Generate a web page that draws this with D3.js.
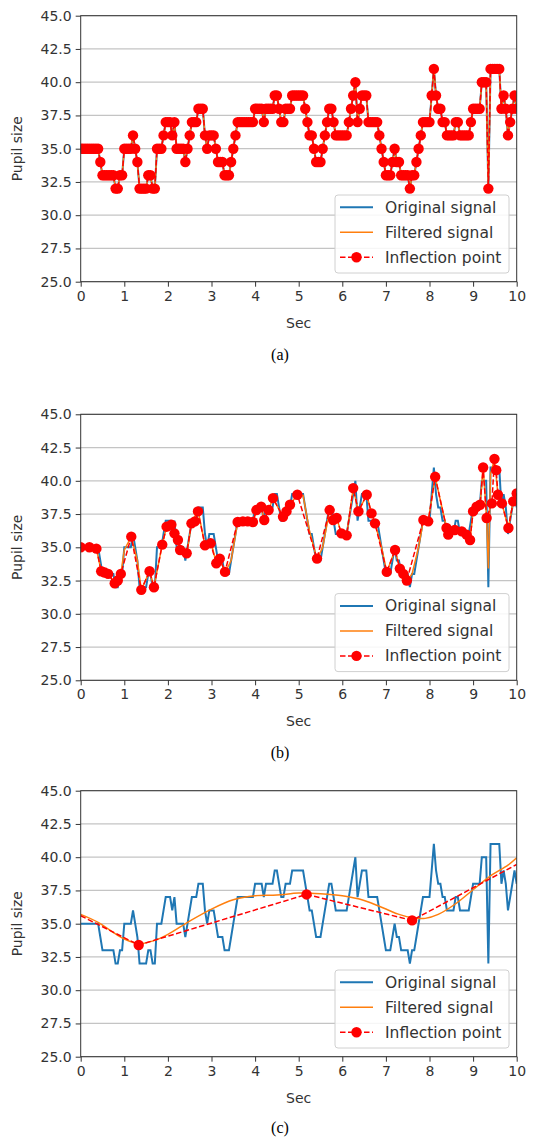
<!DOCTYPE html>
<html>
<head>
<meta charset="utf-8">
<script src="https://cdn.jsdelivr.net/npm/d3@7"></script>
<style>
  body { margin: 0; background: #fff; }
  svg { display: block; }
</style>
</head>
<body>
<div id="chart"></div>
<script>
// original pupil signal, 20 samples per second, 0..10 s
var sampleRate = 20;
var originalSignal = [
  35, 35, 35, 35, 35, 35, 35, 35, 35, 34,
  33, 33, 33, 33, 33, 33, 32, 32, 33, 33,
  35, 35, 35, 35, 36, 35, 34, 32, 32, 32,
  32, 33, 33, 32, 32, 35, 35, 35, 36, 37,
  37, 37, 36, 37, 35, 35, 35, 35, 34, 35,
  36, 37, 37, 37, 38, 38, 38, 36, 35, 36,
  36, 36, 35, 34, 34, 34, 33, 33, 33, 34,
  35, 36, 37, 37, 37, 37, 37, 37, 37, 37,
  38, 38, 38, 38, 37, 38, 38, 38, 38, 39,
  39, 38, 37, 37, 38, 38, 38, 39, 39, 39,
  39, 39, 39, 38, 37, 36, 36, 35, 34, 34,
  34, 35, 36, 37, 38, 38, 37, 36, 36, 36,
  36, 36, 36, 37, 38, 39, 40, 37, 38, 39,
  39, 39, 37, 37, 37, 37, 37, 36, 35, 34,
  33, 33, 33, 34, 35, 34, 34, 33, 33, 33,
  33, 32, 33, 33, 34, 35, 36, 37, 37, 37,
  37, 39, 41, 39, 38, 38, 37, 37, 36, 36,
  36, 36, 37, 37, 36, 36, 36, 36, 36, 37,
  38, 38, 38, 38, 40, 40, 40, 32, 41, 41,
  41, 41, 41, 38, 39, 38, 36, 37, 38, 39,
  38
];

// (b) lightly filtered signal
var filteredBTime = [0, 0.36, 0.47, 0.63, 0.78, 0.92, 1.0, 1.16, 1.3, 1.39, 1.58, 1.68, 1.87, 1.97, 2.08, 2.15, 2.28, 2.43, 2.54, 2.69, 2.85, 2.98, 3.11, 3.19, 3.31, 3.45, 3.6, 3.95, 4.03, 4.14, 4.21, 4.31, 4.41, 4.64, 4.8, 4.97, 5.1, 5.25, 5.42, 5.55, 5.71, 5.79, 5.87, 5.98, 6.1, 6.25, 6.37, 6.56, 6.67, 6.75, 6.9, 7.02, 7.21, 7.32, 7.48, 7.6, 7.75, 7.86, 7.97, 8.13, 8.39, 8.43, 8.58, 8.74, 8.93, 9.0, 9.16, 9.23, 9.31, 9.35, 9.4, 9.49, 9.57, 9.66, 9.81, 9.92, 10];
var filteredBValue = [35, 34.9, 33.2, 33.0, 32.3, 33.0, 34.8, 35.8, 34.0, 31.8, 33.2, 32.0, 35.2, 36.55, 36.7, 36.05, 34.8, 34.4, 36.8, 37.8, 35.15, 35.5, 33.8, 34.15, 33.1, 34.0, 36.9, 36.9, 37.8, 38.05, 37.05, 37.8, 38.7, 37.3, 38.2, 38.95, 38.9, 36.2, 34.1, 35.0, 37.8, 37.05, 37.2, 36.05, 35.9, 39.45, 37.7, 38.95, 37.55, 36.8, 35.0, 33.15, 34.8, 33.4, 32.5, 33.0, 35.0, 37.05, 36.95, 40.3, 36.45, 35.95, 36.3, 36.2, 35.55, 37.7, 38.2, 41.0, 37.2, 33.4, 40.5, 41.65, 38.95, 38.3, 36.45, 38.45, 39.05];

// (b) inflection points
var inflectionBTime = [0, 0.2, 0.36, 0.47, 0.55, 0.63, 0.78, 0.85, 0.92, 1.16, 1.39, 1.58, 1.68, 1.87, 1.97, 2.08, 2.15, 2.23, 2.28, 2.43, 2.54, 2.62, 2.69, 2.85, 2.98, 3.11, 3.19, 3.31, 3.6, 3.72, 3.83, 3.95, 4.03, 4.14, 4.21, 4.31, 4.41, 4.64, 4.72, 4.8, 4.97, 5.42, 5.71, 5.79, 5.87, 5.98, 6.1, 6.25, 6.37, 6.56, 6.67, 6.75, 7.02, 7.21, 7.32, 7.4, 7.48, 7.86, 7.97, 8.13, 8.39, 8.43, 8.58, 8.74, 8.85, 8.93, 9.0, 9.08, 9.16, 9.23, 9.31, 9.43, 9.49, 9.53, 9.57, 9.66, 9.81, 9.92, 10];
var inflectionBValue = [35.0, 35.0, 34.9, 33.2, 33.1, 33.0, 32.3, 32.5, 33.0, 35.8, 31.8, 33.2, 32.0, 35.2, 36.55, 36.7, 36.05, 35.55, 34.8, 34.55, 36.8, 36.95, 37.7, 35.15, 35.3, 33.8, 34.15, 33.15, 36.9, 36.95, 36.95, 36.9, 37.8, 38.05, 37.05, 37.8, 38.7, 37.3, 37.7, 38.2, 38.95, 34.15, 37.8, 37.05, 37.2, 36.05, 35.9, 39.45, 37.7, 38.95, 37.55, 36.8, 33.15, 34.8, 33.4, 33.0, 32.5, 37.05, 36.95, 40.3, 36.45, 35.95, 36.3, 36.2, 35.95, 35.55, 37.7, 38.05, 38.2, 41.0, 37.2, 38.3, 41.65, 40.8, 38.95, 38.3, 36.45, 38.45, 39.05];

// (c) strongly filtered signal
var filteredCTime = [0, 0.4, 0.7, 1.0, 1.35, 1.7, 2.0, 2.5, 3.0, 3.5, 4.0, 4.5, 5.0, 5.5, 6.0, 6.5, 7.0, 7.3, 7.6, 7.9, 8.2, 8.6, 9.0, 9.4, 9.8, 10];
var filteredCValue = [35.7, 35.1, 34.45, 33.85, 33.5, 33.75, 34.2, 35.2, 36.1, 36.8, 37.1, 37.15, 37.3, 37.25, 37.1, 36.75, 36.1, 35.7, 35.45, 35.4, 35.7, 36.5, 37.55, 38.6, 39.4, 39.95];

// (c) inflection points (line ends have no marker)
var inflectionCTime = [0, 1.33, 5.18, 7.6, 10];
var inflectionCValue = [35.6, 33.4, 37.2, 35.25, 39.45];
var inflectionCMarked = [false, true, true, true, false];

var xTickValues = [0, 1, 2, 3, 4, 5, 6, 7, 8, 9, 10];
var yTickValues = [25.0, 27.5, 30.0, 32.5, 35.0, 37.5, 40.0, 42.5, 45.0];
var legendLabels = ["Original signal", "Filtered signal", "Inflection point"];

var blue = "#1f77b4", orange = "#ff7f0e", red = "#ff0000";

var width = 543, height = 1140;
var plotLeft = 80.7, plotW = 436, plotH = 266;

var svg = d3.select("#chart").append("svg")
  .attr("width", width)
  .attr("height", height)
  .style("font-family", "'DejaVu Sans', sans-serif");

svg.append("rect").attr("width", width).attr("height", height).attr("fill", "#fff");

var x = d3.scaleLinear().domain([0, 10]).range([0, plotW]);
var y = d3.scaleLinear().domain([25, 45]).range([plotH, 0]);

function pairs(times, values) {
  return times.map(function (t, i) { return { t: t, v: values[i] }; });
}

var originalPoints = originalSignal.map(function (v, i) { return { t: i / sampleRate, v: v }; });

var line = d3.line()
  .x(function (d) { return x(d.t); })
  .y(function (d) { return y(d.v); });

var smoothLine = d3.line()
  .x(function (d) { return x(d.t); })
  .y(function (d) { return y(d.v); })
  .curve(d3.curveCatmullRom);

var panels = [
  { id: "a", top: 15.7, caption: "(a)", captionY: 360,
    filtered: originalPoints, smooth: false,
    inflection: originalPoints, marked: null },
  { id: "b", top: 414.3, caption: "(b)", captionY: 758,
    filtered: pairs(filteredBTime, filteredBValue), smooth: false,
    inflection: pairs(inflectionBTime, inflectionBValue), marked: null },
  { id: "c", top: 790.7, caption: "(c)", captionY: 1133,
    filtered: pairs(filteredCTime, filteredCValue), smooth: true,
    inflection: pairs(inflectionCTime, inflectionCValue), marked: inflectionCMarked }
];

panels.forEach(function (p) {
  var g = svg.append("g").attr("transform", "translate(" + plotLeft + "," + p.top + ")");

  g.append("clipPath").attr("id", "clip-" + p.id)
    .append("rect").attr("width", plotW).attr("height", plotH);

  // horizontal grid
  g.append("g")
    .selectAll("line")
    .data(yTickValues)
    .enter().append("line")
    .attr("x1", 0).attr("x2", plotW)
    .attr("y1", function (d) { return y(d); })
    .attr("y2", function (d) { return y(d); })
    .attr("stroke", "#c4c4c4")
    .attr("stroke-width", 1.2);

  var plot = g.append("g").attr("clip-path", "url(#clip-" + p.id + ")");

  plot.append("path").datum(originalPoints)
    .attr("d", line)
    .attr("fill", "none").attr("stroke", blue).attr("stroke-width", 2);

  plot.append("path").datum(p.filtered)
    .attr("d", p.smooth ? smoothLine : line)
    .attr("fill", "none").attr("stroke", orange).attr("stroke-width", 1.5);

  plot.append("path").datum(p.inflection)
    .attr("d", line)
    .attr("fill", "none").attr("stroke", red).attr("stroke-width", 1.5)
    .attr("stroke-dasharray", "5.5,2.5");

  plot.selectAll(".dot")
    .data(p.inflection.filter(function (d, i) { return !p.marked || p.marked[i]; }))
    .enter().append("circle")
    .attr("class", "dot")
    .attr("cx", function (d) { return x(d.t); })
    .attr("cy", function (d) { return y(d.v); })
    .attr("r", 5.2)
    .attr("fill", red);

  // axes
  var xAxis = g.append("g")
    .attr("transform", "translate(0," + plotH + ")")
    .call(d3.axisBottom(x).tickValues(xTickValues).tickSize(5).tickPadding(4).tickFormat(d3.format("d")));
  var yAxis = g.append("g")
    .call(d3.axisLeft(y).tickValues(yTickValues).tickSize(5).tickPadding(4).tickFormat(d3.format(".1f")));

  [xAxis, yAxis].forEach(function (a) {
    a.select(".domain").remove();
    a.selectAll(".tick line").attr("stroke", "#333").attr("stroke-width", 1);
    a.selectAll(".tick text")
      .attr("fill", "#333")
      .style("font-size", "14px")
      .style("font-family", "'DejaVu Sans', sans-serif");
  });

  g.append("rect")
    .attr("width", plotW).attr("height", plotH)
    .attr("fill", "none").attr("stroke", "#333").attr("stroke-width", 1);

  g.append("text")
    .attr("x", plotW / 2).attr("y", plotH + 46)
    .attr("text-anchor", "middle")
    .attr("fill", "#333")
    .style("font-size", "14px")
    .text("Sec");

  g.append("text")
    .attr("transform", "translate(" + (22 - plotLeft) + "," + (plotH / 2) + ") rotate(-90)")
    .attr("text-anchor", "middle")
    .attr("fill", "#333")
    .style("font-size", "14px")
    .text("Pupil size");

  // legend
  var lg = g.append("g").attr("transform", "translate(" + (plotW - 181.7) + "," + (plotH - 86.7) + ")");
  lg.append("rect")
    .attr("width", 174).attr("height", 78)
    .attr("rx", 3)
    .attr("fill", "#fff").attr("fill-opacity", 0.85)
    .attr("stroke", "#d0d0d0");

  legendLabels.forEach(function (label, i) {
    var ry = 12.3 + i * 25;
    var row = lg.append("g").attr("transform", "translate(0," + ry + ")");
    var seg = row.append("line").attr("x1", 5).attr("x2", 38).attr("y1", 0).attr("y2", 0);
    if (i === 0) seg.attr("stroke", blue).attr("stroke-width", 2);
    if (i === 1) seg.attr("stroke", orange).attr("stroke-width", 1.5);
    if (i === 2) {
      seg.attr("stroke", red).attr("stroke-width", 1.5).attr("stroke-dasharray", "5.5,2.5");
      row.append("circle").attr("cx", 21.5).attr("cy", 0).attr("r", 5.2).attr("fill", red);
    }
    row.append("text")
      .attr("x", 50).attr("y", 5.5)
      .attr("fill", "#333")
      .style("font-size", "15.5px")
      .text(label);
  });

  svg.append("text")
    .attr("x", 280).attr("y", p.captionY)
    .attr("text-anchor", "middle")
    .attr("fill", "#000")
    .style("font-family", "'Liberation Serif', 'Times New Roman', serif")
    .style("font-size", "16px")
    .text(p.caption);
});
</script>
</body>
</html>
